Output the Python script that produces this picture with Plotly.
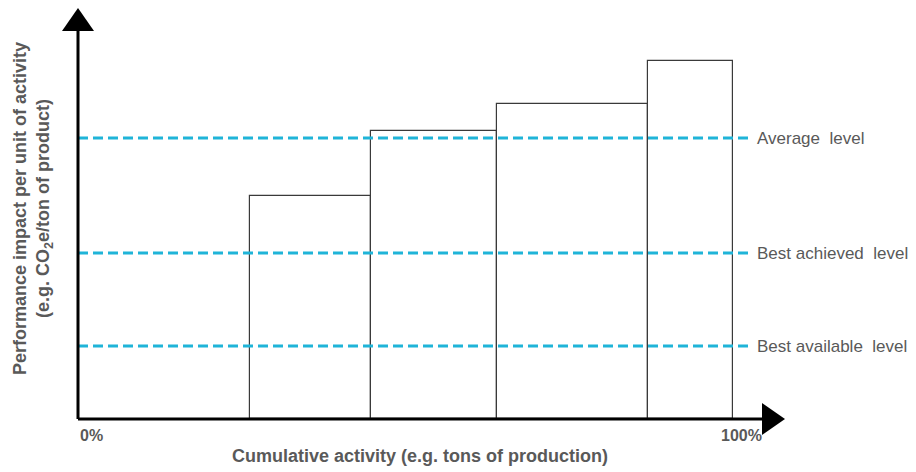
import plotly.graph_objects as go

# cumulative activity (%) at the right edge of each bar, starting edge of first bar
bar_start = 26.3
bar_right_edges = [44.7, 64.0, 87.0, 100.0]
bar_heights = [22.3, 28.8, 31.5, 35.8]

level_names = ["Average  level", "Best achieved  level", "Best available  level"]
level_values = [28.1, 16.6, 7.3]
level_line_end = 102.6

x_tick_labels = ["0%", "100%"]

GREY = "#595959"
CYAN = "#1fb4d8"
FONT = "Liberation Sans, Arial, sans-serif"

lefts = [bar_start] + bar_right_edges[:-1]
widths = [r - l for l, r in zip(lefts, bar_right_edges)]
centers = [l + w / 2 for l, w in zip(lefts, widths)]

fig = go.Figure()

fig.add_trace(go.Bar(
    x=centers, y=bar_heights, width=widths,
    marker=dict(color="rgba(0,0,0,0)", line=dict(color="#3a3a3a", width=1.2)),
    hoverinfo="skip",
))

for name, val in zip(level_names, level_values):
    fig.add_trace(go.Scatter(
        x=[0, level_line_end], y=[val, val], mode="lines",
        line=dict(color=CYAN, width=2.8, dash="10px,5px"),
        cliponaxis=False, hoverinfo="skip",
    ))
    fig.add_annotation(
        x=level_line_end, y=val, text=name, xanchor="left", xshift=5,
        showarrow=False, font=dict(size=17, color=GREY, family=FONT),
    )

# axes with arrow heads
fig.add_shape(type="line", xref="paper", yref="paper", x0=0, x1=0.97, y0=0, y1=0,
              line=dict(color="black", width=3))
fig.add_shape(type="line", xref="paper", yref="paper", x0=0, x1=0, y0=0, y1=0.95,
              line=dict(color="black", width=3))
fig.add_shape(type="path", xref="paper", yref="paper", xsizemode="pixel", ysizemode="pixel",
              xanchor=1, yanchor=0, path="M -23 -16 L 0 0 L -23 16 Z",
              fillcolor="black", line=dict(width=0))
fig.add_shape(type="path", xref="paper", yref="paper", xsizemode="pixel", ysizemode="pixel",
              xanchor=0, yanchor=1, path="M -16 -23 L 0 0 L 16 -23 Z",
              fillcolor="black", line=dict(width=0))

fig.add_annotation(x=0, y=0, text="<b>%s</b>" % x_tick_labels[0], xanchor="left", yanchor="top",
                   xshift=0, yshift=-6, showarrow=False,
                   font=dict(size=16, color=GREY, family=FONT))
fig.add_annotation(x=100, y=0, text="<b>%s</b>" % x_tick_labels[1], xanchor="center", yanchor="top",
                   xshift=8, yshift=-6, showarrow=False,
                   font=dict(size=16, color=GREY, family=FONT))

fig.add_annotation(xref="paper", yref="paper", x=0.484, y=0, yanchor="top", yshift=-25,
                   text="<b>Cumulative activity (e.g. tons of production)</b>",
                   showarrow=False, font=dict(size=18, color=GREY, family=FONT))
fig.add_annotation(xref="paper", yref="paper", x=0, y=0.511, xanchor="right", xshift=-20,
                   textangle=-90, align="center",
                   text="<b>Performance impact per unit of activity<br>(e.g. CO<sub>2</sub>e/ton of product)</b>",
                   showarrow=False, font=dict(size=18, color=GREY, family=FONT))

# the page body adds an 8px offset, so the figure is drawn 8px smaller
fig.update_layout(
    width=908, height=464,
    margin=dict(l=70, r=131, t=0, b=53),
    paper_bgcolor="white", plot_bgcolor="white",
    showlegend=False, bargap=0,
    xaxis=dict(range=[0, 107.9], visible=False, fixedrange=True),
    yaxis=dict(range=[0, 41.1], visible=False, fixedrange=True),
)

fig.write_html("out.html")
